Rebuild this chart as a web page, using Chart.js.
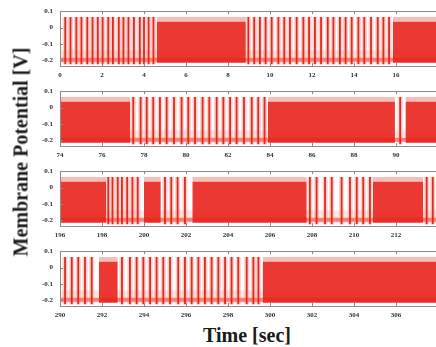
<!DOCTYPE html>
<html lang="en-US">
<head>
<meta charset="UTF-8">
<title>Membrane Potential</title>
<script src="https://cdn.jsdelivr.net/npm/chart.js@4.4.1/dist/chart.umd.min.js"></script>
<style>
  html, body { margin: 0; padding: 0; background: #fff; }
  #wrap { position: relative; width: 436px; height: 347px; overflow: hidden; background: #fff; }
  #wrap canvas { position: absolute; left: 0; }
  .title { position: absolute; font-family: "Liberation Serif", "DejaVu Serif", serif; font-weight: bold; font-size: 20px; color: #1a1a1a; white-space: nowrap; }
  #ytitle { left: 21px; top: 152px; transform: translate(-50%, -50%) rotate(-90deg); }
  #xtitle { left: 247px; top: 335px; transform: translate(-50%, -50%); }
</style>
</head>
<body>
<div id="wrap">
  <canvas id="c1" width="480" height="80" style="top:0px"></canvas>
  <canvas id="c2" width="480" height="80" style="top:80px"></canvas>
  <canvas id="c3" width="480" height="80" style="top:160px"></canvas>
  <canvas id="c4" width="480" height="80" style="top:240px"></canvas>
  <div class="title" id="ytitle">Membrane Potential [V]</div>
  <div class="title" id="xtitle">Time [sec]</div>
</div>
<script>
// start time of each panel (each shows ~20 s, cut by the page edge)
var panelStarts = [0, 74, 196, 290];
var panelSpan = 20;

var xTicks1 = [0, 2, 4, 6, 8, 10, 12, 14, 16];
var xTicks2 = [74, 76, 78, 80, 82, 84, 86, 88, 90];
var xTicks3 = [196, 198, 200, 202, 204, 206, 208, 210, 212];
var xTicks4 = [290, 292, 294, 296, 298, 300, 302, 304, 306];
var yTicks = [-0.2, -0.1, 0, 0.1];

// voltage levels
var peakV = 0.065;
var dipV = -0.225;
var restV = -0.197;
var burstTopV = 0.035;
var burstBottomV = -0.215;
var shadeTopV = -0.14;

// isolated spike times [s]
var spikes1 = [0.25, 0.5, 0.78, 1.02, 1.3, 1.55, 1.8, 2.03, 2.3, 2.52, 2.8, 3.02, 3.26, 3.52, 3.8, 4.0, 4.22, 4.45,
  8.97, 9.25, 9.52, 9.79, 10.08, 10.4, 10.68, 10.95, 11.27, 11.59, 11.86, 12.14, 12.43, 12.75, 13.02, 13.33,
  13.6, 13.89, 14.21, 14.49, 14.81, 15.13, 15.4, 15.67];
var spikes2 = [77.49, 77.84, 78.13, 78.44, 78.76, 79.08, 79.43, 79.79, 80.11, 80.43, 80.79, 81.11, 81.46,
  81.78, 82.1, 82.41, 82.76, 83.13, 83.44, 83.74, 90.2];
var spikes3 = [198.3, 198.5, 198.75, 198.95, 199.2, 199.45, 199.7, 201.0, 201.3, 201.6, 201.95,
  207.9, 208.22, 208.62, 208.94, 209.41, 209.81, 210.13, 210.44, 210.76, 213.46, 213.75];
var spikes4 = [290.24, 290.56, 290.87, 291.19, 291.51, 292.95, 293.33, 293.65, 293.97, 294.29, 294.6, 294.92,
  295.24, 295.63, 295.95, 296.27, 296.59, 296.9, 297.22, 297.54, 297.86, 298.17, 298.49, 298.89, 299.21, 299.45];

// dense firing intervals [start, end]
var bursts1 = [[4.6, 8.85], [15.85, 20]];
var bursts2 = [[74, 77.35], [83.9, 89.95], [90.45, 94]];
var bursts3 = [[196, 198.2], [200.0, 200.8], [202.3, 207.75], [210.9, 213.3], [213.95, 216]];
var bursts4 = [[291.85, 292.75], [299.65, 310]];

var frame = {
  id: 'frame',
  afterDatasetsDraw: function(chart) {
    var ctx = chart.ctx, a = chart.chartArea;
    var xs = chart.scales.x, ys = chart.scales.y;
    ctx.save();
    ctx.strokeStyle = '#8c8c8c';
    ctx.lineWidth = 1;
    ctx.strokeRect(Math.round(a.left) + 0.5, Math.round(a.top) + 0.5, Math.round(a.right - a.left), Math.round(a.bottom - a.top));
    ctx.beginPath();
    chart.options.plugins.frame.xt.forEach(function(v) {
      var px = Math.round(xs.getPixelForValue(v)) + 0.5;
      ctx.moveTo(px, a.bottom); ctx.lineTo(px, a.bottom - 3);
      ctx.moveTo(px, a.top); ctx.lineTo(px, a.top + 3);
    });
    yTicks.forEach(function(v) {
      var py = Math.round(ys.getPixelForValue(v)) + 0.5;
      ctx.moveTo(a.left, py); ctx.lineTo(a.left + 3, py);
    });
    ctx.stroke();
    ctx.restore();
  }
};

function makePanel(id, t0, xt, spikes, bursts) {
  var spikePts = [];
  spikes.forEach(function(t) {
    spikePts.push({x: t, y: dipV}, {x: t, y: peakV}, {x: t, y: null});
  });
  var burstPts = [], burstHaze = [];
  bursts.forEach(function(b) {
    burstPts.push({x: b[0], y: burstTopV}, {x: b[1], y: burstTopV}, {x: b[1], y: null});
    burstHaze.push({x: b[0], y: peakV}, {x: b[1], y: peakV}, {x: b[1], y: null});
  });
  var restPts = [{x: t0, y: restV}, {x: t0 + panelSpan, y: restV}];
  var shadePts = [{x: t0, y: shadeTopV}, {x: t0 + panelSpan, y: shadeTopV}];
  var font = {family: '"Liberation Serif", "DejaVu Serif", serif', size: 7, weight: 'bold'};

  new Chart(document.getElementById(id), {
    type: 'line',
    data: {
      datasets: [
        {data: spikePts, borderColor: 'rgba(228,30,24,0.95)', borderWidth: 1.8, order: 1},
        {data: spikePts, borderColor: 'rgba(242,125,105,0.35)', borderWidth: 5, order: 2},
        {data: burstPts, borderWidth: 0, borderColor: 'rgba(0,0,0,0)', backgroundColor: 'rgba(233,34,28,0.9)',
          fill: {value: burstBottomV}, order: 3},
        {data: burstHaze, borderWidth: 0, borderColor: 'rgba(0,0,0,0)', backgroundColor: 'rgba(240,110,92,0.45)',
          fill: {value: burstTopV}, order: 4},
        {data: restPts, borderColor: 'rgba(236,60,48,0.6)', borderWidth: 4, order: 5},
        {data: shadePts, borderWidth: 0, borderColor: 'rgba(0,0,0,0)', backgroundColor: 'rgba(244,150,135,0.22)',
          fill: {value: burstBottomV}, order: 6}
      ]
    },
    options: {
      responsive: false,
      animation: false,
      devicePixelRatio: 1,
      spanGaps: false,
      elements: {point: {radius: 0}, line: {tension: 0}},
      layout: {padding: {top: 8, left: 0, right: 0, bottom: 0}},
      plugins: {legend: {display: false}, tooltip: {enabled: false}, frame: {xt: xt}},
      scales: {
        x: {
          type: 'linear', min: t0, max: t0 + panelSpan,
          grid: {display: false, drawTicks: false},
          border: {display: false},
          afterBuildTicks: function(s) { s.ticks = xt.map(function(v) { return {value: v}; }); },
          afterFit: function(s) { s.height = 14; },
          ticks: {font: font, color: '#333', padding: 5, maxRotation: 0, autoSkip: false}
        },
        y: {
          min: -0.235, max: 0.1,
          grid: {display: false, drawTicks: false},
          border: {display: false},
          afterBuildTicks: function(s) { s.ticks = yTicks.map(function(v) { return {value: v}; }); },
          afterFit: function(s) { s.width = 60; },
          ticks: {font: font, color: '#333', padding: 7,
            callback: function(v) { return String(v); }}
        }
      }
    },
    plugins: [frame]
  });
}

makePanel('c1', panelStarts[0], xTicks1, spikes1, bursts1);
makePanel('c2', panelStarts[1], xTicks2, spikes2, bursts2);
makePanel('c3', panelStarts[2], xTicks3, spikes3, bursts3);
makePanel('c4', panelStarts[3], xTicks4, spikes4, bursts4);
</script>
</body>
</html>
